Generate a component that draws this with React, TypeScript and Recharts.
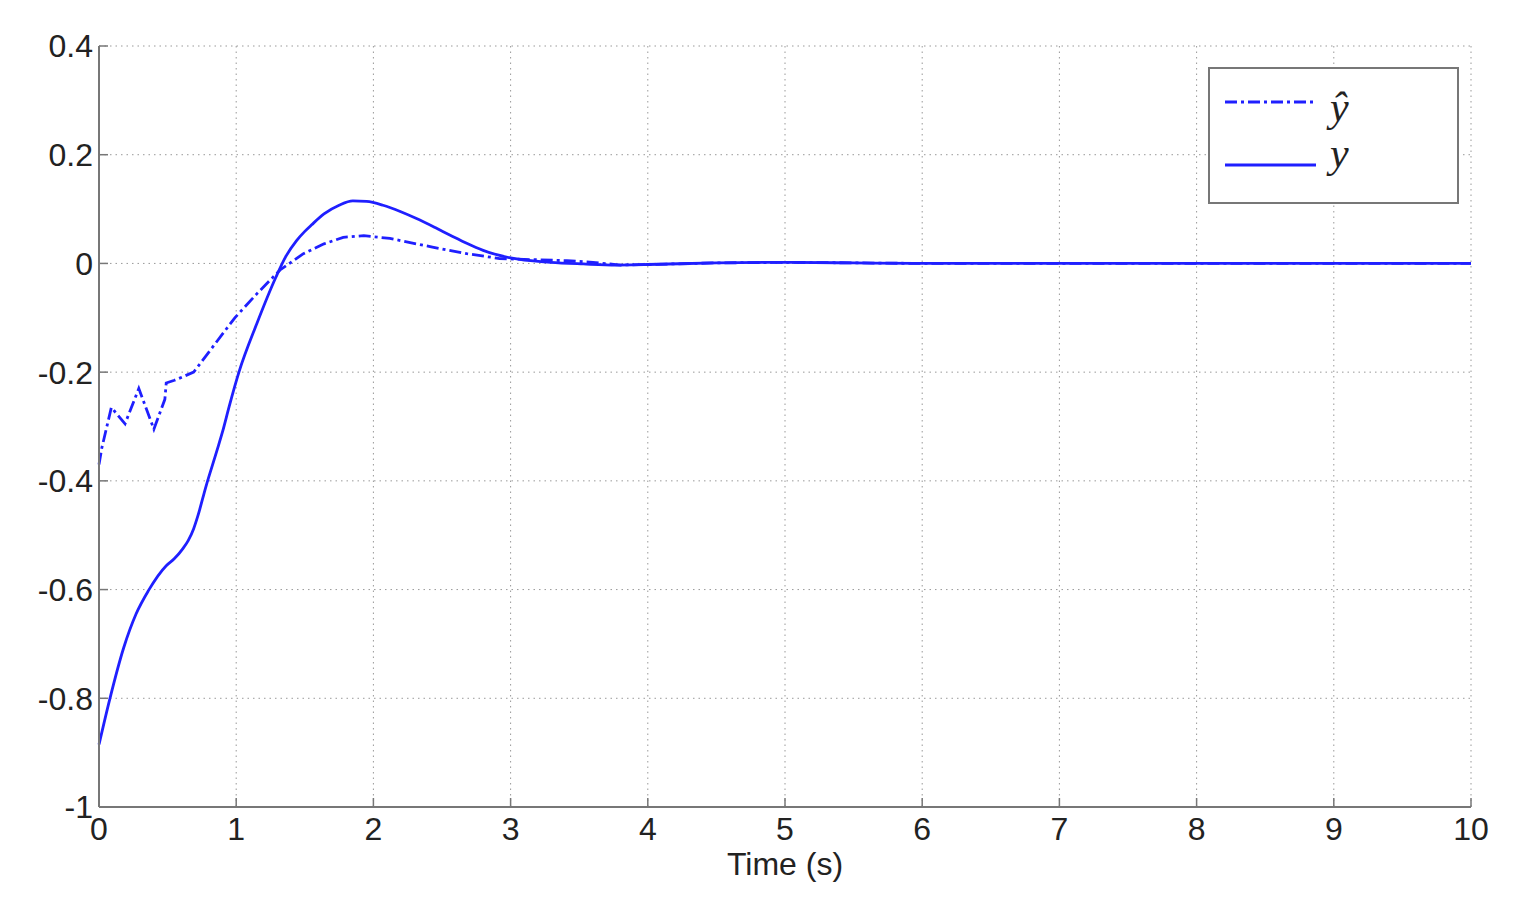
import React from 'react';
import { LineChart, Line, XAxis, YAxis, CartesianGrid } from 'recharts';

// estimated output (dash-dot) and measured output (solid)
const timeHat = [0, 0.02, 0.09, 0.19, 0.29, 0.4, 0.48, 0.49, 0.55, 0.69, 0.81, 0.99, 1.15, 1.32, 1.49, 1.64, 1.78, 1.93, 2.12, 2.43, 2.68, 2.92, 3.16, 3.41, 3.6, 3.8, 4, 4.5, 5, 6, 7, 8, 9, 10];
const valuesHat = [-0.37, -0.34, -0.265, -0.295, -0.23, -0.305, -0.25, -0.22, -0.215, -0.2, -0.16, -0.1, -0.056, -0.012, 0.018, 0.036, 0.048, 0.051, 0.046, 0.03, 0.018, 0.009, 0.007, 0.005, 0.002, -0.003, -0.002, 0.001, 0.002, 0, 0, 0, 0, 0];

const timeY = [0, 0.08, 0.18, 0.27, 0.36, 0.49, 0.55, 0.61, 0.65, 0.69, 0.72, 0.78, 0.86, 0.9, 0.95, 1.02, 1.15, 1.29, 1.36, 1.44, 1.5, 1.55, 1.64, 1.75, 1.85, 1.95, 2.07, 2.2, 2.31, 2.45, 2.56, 2.68, 2.8, 3, 3.29, 3.53, 3.77, 4, 4.5, 5, 5.5, 6, 7, 8, 9, 10];
const valuesY = [-0.885, -0.8, -0.707, -0.645, -0.602, -0.556, -0.543, -0.525, -0.51, -0.488, -0.465, -0.41, -0.344, -0.31, -0.262, -0.2, -0.111, -0.025, 0.012, 0.042, 0.059, 0.071, 0.091, 0.107, 0.115, 0.114, 0.107, 0.095, 0.083, 0.066, 0.052, 0.037, 0.024, 0.01, 0.002, -0.001, -0.003, -0.002, 0.001, 0.002, 0.001, 0, 0, 0, 0, 0];

const xTicks = [0, 1, 2, 3, 4, 5, 6, 7, 8, 9, 10];
const yTicks = [-1, -0.8, -0.6, -0.4, -0.2, 0, 0.2, 0.4];

const BLUE = '#1f1fff';
const AXIS = '#777';

const series = [
  { key: 'yhat', label: 'ŷ', dash: '12 4 3 4', curve: 'linear', t: timeHat, v: valuesHat },
  { key: 'y', label: 'y', dash: undefined, curve: 'monotone', t: timeY, v: valuesY },
];

const tickFont = { fill: '#222', fontSize: 32, fontFamily: 'Liberation Sans, Arial, sans-serif' };

function LegendBox() {
  return (
    <div
      style={{
        position: 'absolute',
        left: 1208,
        top: 67,
        width: 247,
        height: 133,
        border: `2px solid ${AXIS}`,
        background: '#fff',
      }}
    >
      <svg width={247} height={133}>
        {series.map((s, i) => (
          <g key={s.key}>
            <line
              x1={15}
              x2={106}
              y1={33 + i * 63}
              y2={33 + i * 63}
              stroke={BLUE}
              strokeWidth={2.8}
              strokeDasharray={s.dash}
            />
            <text
              x={120}
              y={52 + i * 46}
              fontFamily="Liberation Serif, Times New Roman, serif"
              fontStyle="italic"
              fontSize={42}
              fill="#222"
            >
              {s.label}
            </text>
          </g>
        ))}
      </svg>
    </div>
  );
}

export default function App() {
  return (
    <div style={{ position: 'fixed', left: 0, top: 0, width: 1518, height: 909, background: '#fff' }}>
      <LineChart width={1518} height={909} margin={{ top: 46, right: 47, left: 39, bottom: 62 }}>
        <CartesianGrid stroke="#999" strokeDasharray="1.5 4" />
        <XAxis
          dataKey="t"
          type="number"
          domain={[0, 10]}
          ticks={xTicks}
          allowDuplicatedCategory={false}
          height={40}
          tick={tickFont}
          tickSize={-9}
          tickMargin={19}
          axisLine={{ stroke: AXIS, strokeWidth: 2 }}
          tickLine={{ stroke: AXIS, strokeWidth: 1.5 }}
          label={{
            value: 'Time (s)',
            position: 'bottom',
            offset: 5,
            fill: '#222',
            fontSize: 32,
            fontFamily: 'Liberation Sans, Arial, sans-serif',
          }}
        />
        <XAxis
          xAxisId="top"
          orientation="top"
          type="number"
          domain={[0, 10]}
          ticks={xTicks}
          height={0}
          tickFormatter={() => ''}
          tickSize={-9}
          axisLine={{ stroke: AXIS, strokeWidth: 2 }}
          tickLine={{ stroke: AXIS, strokeWidth: 1.5 }}
        />
        <YAxis
          type="number"
          domain={[-1, 0.4]}
          ticks={yTicks}
          width={60}
          tick={tickFont}
          tickSize={-9}
          tickMargin={15}
          axisLine={{ stroke: AXIS, strokeWidth: 2 }}
          tickLine={{ stroke: AXIS, strokeWidth: 1.5 }}
        />
        <YAxis
          yAxisId="right"
          orientation="right"
          type="number"
          domain={[-1, 0.4]}
          ticks={yTicks}
          width={0}
          tickFormatter={() => ''}
          tickSize={-9}
          axisLine={{ stroke: AXIS, strokeWidth: 2 }}
          tickLine={{ stroke: AXIS, strokeWidth: 1.5 }}
        />
        {series.map((s) => (
          <Line
            key={s.key}
            data={s.t.map((t, i) => ({ t, value: s.v[i] }))}
            dataKey="value"
            type={s.curve as any}
            stroke={BLUE}
            strokeWidth={2.8}
            strokeDasharray={s.dash}
            dot={false}
            isAnimationActive={false}
          />
        ))}
      </LineChart>
      <LegendBox />
    </div>
  );
}
